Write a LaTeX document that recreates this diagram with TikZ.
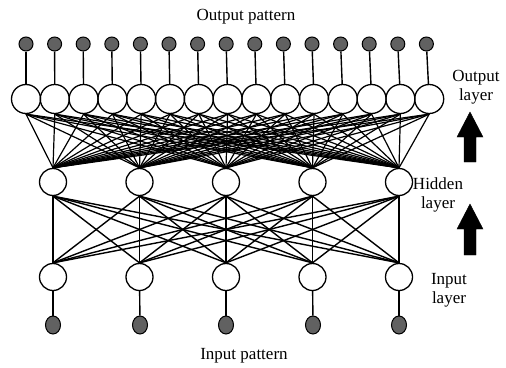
\documentclass[tikz,border=0pt]{standalone}
\usepackage{fontspec}
\setmainfont{Liberation Serif}
\usetikzlibrary{shapes.geometric}
\begin{document}
\begin{tikzpicture}[x=1pt,y=-1pt,
  neuron/.style={circle,draw=black,line width=1.3pt,minimum size=27pt,inner sep=0pt},
  outneuron/.style={circle,draw=black,line width=1.3pt,minimum size=29pt,inner sep=0pt},
  patdot/.style={circle,draw=black,line width=1pt,fill=black!62,minimum size=14pt,inner sep=0pt},
  indot/.style={ellipse,draw=black,line width=1pt,fill=black!62,minimum width=15pt,minimum height=18pt,inner sep=0pt},
  wire/.style={line width=1.4pt,black},
  denswire/.style={line width=1.2pt,black},
  lbl/.style={font=\fontsize{17}{19}\selectfont,align=center,inner sep=0pt},
  uparrow/.style={fill=black,draw=black,line join=miter}
]
\useasboundingbox (0,0) rectangle (506,367);

% output layer and output pattern
\foreach \i in {0,...,14}{
  \node[outneuron] (o\i) at ({26+\i*28.8},99) {};
  \node[patdot] (p\i) at ({26+\i*28.6},44) {};
}
% hidden and input layers with input pattern
\foreach \i in {0,...,4}{
  \node[neuron] (h\i) at ({53+\i*86.5},182) {};
  \node[neuron] (n\i) at ({53+\i*86.5},277) {};
}
\node[indot] (d0) at (53,325) {};
\node[indot] (d1) at (140,325) {};
\node[indot] (d2) at (226,325) {};
\node[indot] (d3) at (313,325) {};
\node[indot] (d4) at (399,325) {};

% connections
\foreach \i in {0,...,14}{
  \draw[wire] (p\i) -- (o\i);
  \foreach \j in {0,...,4}{
    \draw[denswire] (h\j.north) -- (o\i.south);
  }
}
\foreach \i in {0,...,4}{
  \draw[wire] (n\i) -- (d\i);
  \foreach \j in {0,...,4}{
    \draw[wire] (n\i.north) -- (h\j.south);
  }
}

% texts
\node[lbl] (tout) at (246,17) {Output pattern};
\node[lbl] (tin) at (244,356) {Input pattern};
\node[lbl] (lout) at (476,87) {Output\\layer};
\node[lbl] (lhid) at (438,195) {Hidden\\layer};
\node[lbl] (lin) at (449,290) {Input\\layer};

% upward block arrows
\fill[uparrow] (464,162) -- (464,137) -- (457,137) -- (470,112) -- (483,137) -- (476,137) -- (476,162) -- cycle;
\fill[uparrow] (464,255) -- (464,229) -- (457,229) -- (470,204) -- (483,229) -- (476,229) -- (476,255) -- cycle;
\end{tikzpicture}
\end{document}
